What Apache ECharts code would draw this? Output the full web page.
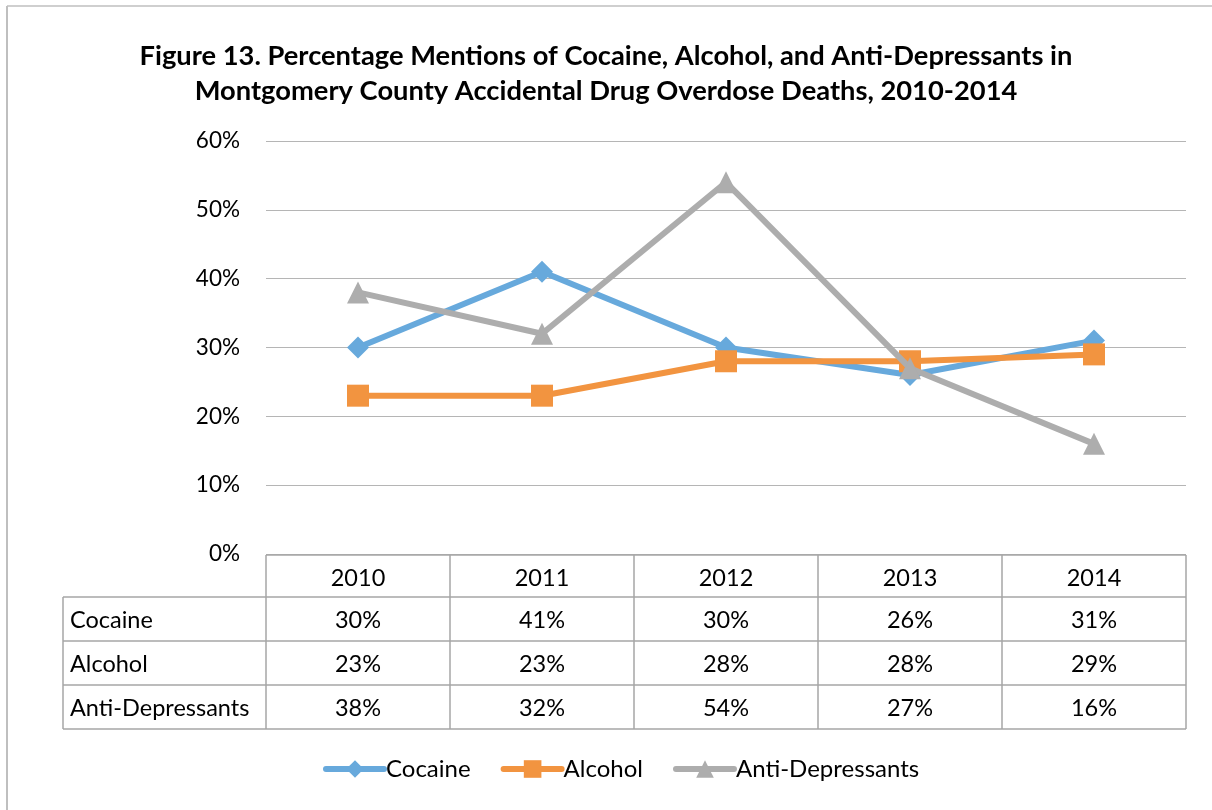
<!DOCTYPE html>
<html><head><meta charset="utf-8">
<script src="https://cdn.jsdelivr.net/npm/echarts@6/dist/echarts.min.js"></script>
<style>html,body{margin:0;padding:0;background:#fff}#c{width:1212px;height:810px}</style>
</head><body><div id="c"></div>
<script>
var categories = ['2010','2011','2012','2013','2014'];
var seriesNames = ['Cocaine','Alcohol','Anti-Depressants'];
var cocaine = [0.30,0.41,0.30,0.26,0.31];
var alcohol = [0.23,0.23,0.28,0.28,0.29];
var antiDep = [0.38,0.32,0.54,0.27,0.16];
var yTicks = [0,0.1,0.2,0.3,0.4,0.5,0.6];
var titleText = 'Figure 13. Percentage Mentions of Cocaine, Alcohol, and Anti-Depressants in\nMontgomery County Accidental Drug Overdose Deaths, 2010-2014';

var FONT = 'Lato, "Open Sans", sans-serif';
var colors = ['#67A9DC','#F29440','#ADADAD'];
var symbols = ['diamond','rect','triangle'];
var values = [cocaine, alcohol, antiDep];
var fmtPct = function(v){ return Math.round(v*100) + '%'; };

var chart = echarts.init(document.getElementById('c'), null, {renderer:'canvas'});
var G = {left:266, right:26, top:141, bottom:256};
var option = {
  backgroundColor:'#fff',
  animation:false,
  title:{text:titleText, left:'center', top:34,
    textStyle:{fontFamily:FONT, fontWeight:'bold', fontSize:27.3, color:'#000', lineHeight:35}},
  grid:{left:G.left, right:G.right, top:G.top, bottom:G.bottom},
  legend:{bottom:24, left:318, itemWidth:58, itemHeight:22, itemGap:30,
    lineStyle:{width:6, cap:'round'},
    textStyle:{fontFamily:FONT, fontSize:24, color:'#000', padding:[0,0,0,-3]},
    data:seriesNames},
  xAxis:{type:'category', data:categories, boundaryGap:true,
    axisLine:{show:false}, axisTick:{show:false}, axisLabel:{show:false}},
  yAxis:{type:'value', min:yTicks[0], max:yTicks[yTicks.length-1], interval:0.1,
    axisLine:{show:false}, axisTick:{show:false},
    axisLabel:{formatter:fmtPct, fontFamily:FONT, fontSize:22.5, color:'#000', margin:26},
    splitLine:{lineStyle:{color:'#B5B5B5', width:1}}},
  series: seriesNames.map(function(n,i){
    return {name:n, type:'line', data:values[i], symbol:symbols[i],
      symbolSize: 22,
      itemStyle:{color:colors[i]}, lineStyle:{color:colors[i], width:6},
      z: 2+i};
  })
};
chart.setOption(option);

// Data table under the plot, built from the same arrays and axis scale
var x0 = chart.convertToPixel({xAxisIndex:0}, categories[0]);
var x1 = chart.convertToPixel({xAxisIndex:0}, categories[1]);
var colW = x1 - x0;
var tableLeft = x0 - colW/2;
var tableRight = tableLeft + colW*categories.length;
var yZero = chart.convertToPixel({yAxisIndex:0}, 0);
var headerH = 42, rowH = 44;
var labelLeft = 63;
var lineCol = '#A6A6A6';
var els = [];
function line(xa,ya,xb,yb){ els.push({type:'line', shape:{x1:xa,y1:ya,x2:xb,y2:yb}, style:{stroke:lineCol, lineWidth:1.5}, silent:true}); }
function txt(x,y,t,align){ els.push({type:'text', x:x, y:y, style:{text:t, fontFamily:FONT, fontSize:23.5, fill:'#000', align:align, verticalAlign:'middle'}, silent:true}); }
var yH = yZero + 1;
var yRows = [yH + headerH];
for (var r=0;r<seriesNames.length;r++) yRows.push(yRows[r] + rowH);
var yBottom = yRows[yRows.length-1];
line(tableLeft, yH, tableRight, yH);
for (var c=0;c<=categories.length;c++){ var xc = tableLeft + c*colW; line(xc, yH, xc, yBottom); }
line(labelLeft, yRows[0], labelLeft, yBottom);
for (var r=0;r<yRows.length;r++) line(labelLeft, yRows[r], tableRight, yRows[r]);
categories.forEach(function(cat,c){ txt(tableLeft + (c+0.5)*colW, yH + headerH/2 + 2, cat, 'center'); });
seriesNames.forEach(function(n,r){
  var yc = yRows[r] + rowH/2 + 1;
  txt(labelLeft + 7, yc, n, 'left');
  values[r].forEach(function(v,c){ txt(tableLeft + (c+0.5)*colW, yc, fmtPct(v), 'center'); });
});
els.push({type:'line', shape:{x1:7,y1:6,x2:1212,y2:6}, style:{stroke:'#BFBFBF', lineWidth:1.5}, silent:true});
els.push({type:'line', shape:{x1:7,y1:6,x2:7,y2:810}, style:{stroke:'#BFBFBF', lineWidth:2}, silent:true});
chart.setOption({graphic:{elements:els}});
</script></body></html>
